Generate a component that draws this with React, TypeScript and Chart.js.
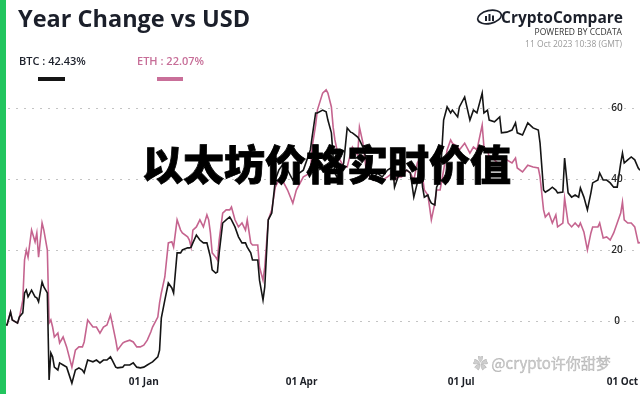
import React, { useEffect, useRef } from "react";
import { Chart, registerables } from "chart.js";

Chart.register(...registerables);

// Days since 11 Oct 2022
const DAYS = [
  0, 4, 6, 7, 10, 11, 13, 14, 15, 16, 18, 20, 21, 22, 24, 25, 27, 28, 29, 30, 31, 33, 34, 36, 38, 41, 43, 45, 47, 48,
  50, 53, 55, 57, 59, 61, 63, 64, 66, 67, 70, 71, 74, 76, 78, 80, 82, 84, 86, 87, 90, 91, 92, 94, 96, 98, 99, 101, 103, 104,
  107, 108, 109, 110, 112, 114, 116, 118, 119, 120, 121, 123, 124, 125, 127, 129, 131, 132, 134, 136, 138, 140, 141, 143, 144, 147, 148, 150, 151, 153,
  155, 157, 159, 161, 164, 167, 169, 173, 177, 178, 180, 181, 184, 186, 187, 189, 190, 191, 193, 196, 198, 200, 201, 204, 205, 207, 209, 211, 213, 215,
  218, 221, 224, 225, 227, 229, 232, 234, 236, 238, 239, 240, 241, 242, 244, 245, 246, 248, 249, 251, 253, 255, 257, 258, 261, 262, 265, 268, 270, 272,
  275, 276, 278, 279, 282, 285, 286, 289, 292, 294, 295, 298, 301, 304, 307, 308, 310, 311, 313, 315, 317, 318, 321, 322, 324, 326, 328, 330, 331, 333,
  335, 337, 338, 341, 342, 344, 346, 348, 350, 352, 354, 355, 356, 358, 360, 362, 364, 365,
];

const BTC = [
  -1.0, -1.1, 2.5, 0.3, -0.6, 1.1, 2.3, 7.9, 8.7, 6.8, 8.7, 6.8, 6.5, 5.4, 11.0, 9.6, 7.9, -16.6, -9.0, -10.1, -13.0, -13.8, -11.8, -12.4, -13.0, -17.5, -13.8, -13.2, -13.8, -14.6,
  -11.0, -11.5, -11.0, -11.8, -11.0, -11.0, -10.1, -11.0, -13.0, -13.2, -13.0, -12.4, -12.4, -11.8, -13.0, -13.2, -13.0, -12.4, -11.8, -11.5, -10.1, -8.2, 0.8, 5.9, 10.7, 9.3, 7.9, 19.2, 19.2, 20.0,
  20.6, 20.6, 20.8, 22.0, 24.2, 22.8, 22.0, 22.0, 20.0, 18.0, 14.4, 13.5, 13.8, 19.2, 27.6, 28.5, 29.3, 28.5, 26.5, 23.7, 22.0, 22.0, 20.8, 19.2, 17.2, 17.2, 11.5, 5.9, 9.6, 28.5,
  30.4, 39.7, 42.5, 43.9, 42.5, 39.7, 41.1, 42.5, 48.2, 51.8, 58.6, 58.6, 59.4, 58.9, 56.6, 53.0, 46.2, 41.7, 39.7, 44.5, 54.4, 53.2, 53.0, 51.8, 51.0, 49.0, 45.4, 40.6, 39.7, 41.7,
  40.6, 42.5, 43.4, 37.7, 40.6, 41.7, 42.5, 41.7, 34.9, 38.9, 45.4, 43.4, 37.7, 34.9, 35.5, 34.1, 33.2, 32.7, 37.7, 39.7, 56.6, 60.3, 58.6, 59.4, 57.5, 60.3, 63.1, 56.6, 59.4, 58.6,
  64.2, 58.6, 59.4, 56.6, 56.1, 57.5, 53.0, 53.2, 53.8, 55.8, 53.0, 52.4, 55.8, 54.4, 53.8, 50.1, 36.9, 36.3, 36.9, 37.7, 36.9, 36.1, 36.3, 45.9, 36.1, 34.9, 35.5, 34.9, 37.5, 34.9,
  31.3, 36.1, 38.9, 39.7, 41.7, 39.7, 39.7, 38.9, 37.7, 37.7, 44.5, 47.3, 44.5, 45.4, 46.2, 45.4, 43.1, 42.43,
];

const ETH = [
  -1.0, -1.1, 2.5, 0.3, -0.6, 0.8, 5.9, 17.2, 20.0, 18.0, 25.6, 22.3, 24.8, 18.0, 27.6, 25.6, 20.0, -0.6, 0.3, -1.7, -4.5, -3.4, -6.2, -4.5, -7.3, -13.0, -8.2, -7.3, -7.3, -5.9,
  0.3, -1.7, -1.7, -3.4, -1.7, -1.1, 1.7, -0.6, -5.4, -8.2, -6.2, -5.9, -5.4, -5.9, -7.3, -7.3, -6.8, -5.4, -3.1, -1.7, 1.1, 5.1, 7.9, 12.4, 22.0, 22.3, 20.8, 28.5, 25.6, 24.8,
  23.7, 22.8, 20.8, 25.6, 26.5, 28.5, 26.5, 29.9, 28.5, 24.8, 19.2, 18.0, 17.2, 22.8, 30.4, 31.3, 31.3, 32.1, 28.5, 26.5, 27.6, 25.6, 28.5, 22.0, 21.4, 21.4, 15.2, 11.5, 15.2, 28.5,
  31.3, 37.7, 39.7, 39.7, 36.9, 33.2, 36.9, 40.6, 41.7, 49.0, 55.2, 59.4, 64.2, 65.1, 64.2, 60.3, 54.6, 51.0, 46.2, 43.4, 43.4, 47.3, 49.0, 46.8, 54.6, 50.1, 41.7, 40.6, 39.7, 40.6,
  39.7, 40.6, 41.7, 39.7, 40.6, 40.6, 42.5, 41.7, 39.7, 44.5, 45.4, 39.7, 40.6, 36.9, 35.5, 32.1, 28.5, 33.2, 36.9, 36.9, 42.5, 48.2, 51.0, 50.1, 49.0, 48.2, 50.1, 47.3, 49.0, 48.2,
  55.2, 49.0, 48.2, 46.2, 45.4, 43.9, 44.8, 45.4, 44.5, 45.9, 43.1, 42.0, 43.9, 43.4, 43.1, 40.6, 31.3, 29.3, 30.4, 27.6, 29.9, 26.5, 27.6, 34.6, 27.6, 26.5, 27.6, 26.5, 27.6, 25.1,
  20.0, 24.8, 26.5, 26.5, 27.6, 23.4, 23.7, 22.8, 24.8, 27.6, 30.4, 33.5, 28.5, 27.6, 27.6, 26.5, 22.0, 22.07,
];

const Y_TICKS = [0, 20, 40, 60];
const X_TICK_DAYS = [82, 172, 263, 355];
const X_TICK_LABELS = ["01 Jan", "01 Apr", "01 Jul", "01 Oct"];

const BTC_COLOR = "#151515";
const ETH_COLOR = "#c5648f";

const decoPlugin = {
  id: "deco",
  beforeDatasetsDraw(chart: any) {
    const { ctx, chartArea, scales } = chart;
    const y = scales.y;
    ctx.save();
    ctx.strokeStyle = "#c4c4c4";
    ctx.lineWidth = 1;
    ctx.setLineDash([2, 6]);
    for (const v of Y_TICKS) {
      const py = Math.round(y.getPixelForValue(v)) + 0.5;
      ctx.beginPath();
      ctx.moveTo(chartArea.left + 8, py);
      ctx.lineTo(chartArea.right, py);
      ctx.stroke();
    }
    ctx.restore();
  },
  afterDatasetsDraw(chart: any) {
    const { ctx, chartArea, scales } = chart;
    const x = scales.x;
    const y = scales.y;
    ctx.save();
    ctx.font = '600 10px "Open Sans"';
    ctx.fillStyle = "#262626";
    ctx.textAlign = "center";
    ctx.textBaseline = "middle";
    for (const v of Y_TICKS) {
      ctx.fillText(String(v), chartArea.right - 23, y.getPixelForValue(v));
    }
    ctx.font = '700 10px "Open Sans"';
    ctx.fillStyle = "#1c1f26";
    X_TICK_DAYS.forEach((d, i) => {
      ctx.fillText(X_TICK_LABELS[i], x.getPixelForValue(d), chartArea.bottom - 10);
    });
    ctx.restore();
  },
};

export default function App() {
  const canvasRef = useRef<HTMLCanvasElement | null>(null);

  useEffect(() => {
    document.body.style.margin = "0";
    const canvas = canvasRef.current;
    if (!canvas) return;
    const chart = new Chart(canvas, {
      type: "line",
      data: {
        datasets: [
          {
            label: "BTC",
            data: DAYS.map((d, i) => ({ x: d, y: BTC[i] })),
            borderColor: BTC_COLOR,
            borderWidth: 1.6,
            pointRadius: 0,
            tension: 0,
          },
          {
            label: "ETH",
            data: DAYS.map((d, i) => ({ x: d, y: ETH[i] })),
            borderColor: ETH_COLOR,
            borderWidth: 1.6,
            pointRadius: 0,
            tension: 0,
          },
        ],
      },
      options: {
        animation: false,
        responsive: false,
        devicePixelRatio: 1,
        layout: { padding: { top: 72.5, bottom: 2, left: 0, right: 0 } },
        plugins: { legend: { display: false }, tooltip: { enabled: false } },
        scales: {
          x: { type: "linear", min: 0, max: 365, display: false },
          y: { type: "linear", min: -20, max: 70, display: false },
        },
      },
      plugins: [decoPlugin],
    });
    return () => chart.destroy();
  }, []);

  const sans = '"Open Sans", "Noto Sans", sans-serif';

  return (
    <div style={{ position: "fixed", left: 0, top: 0, width: 640, height: 394, background: "#fff", overflow: "hidden", fontFamily: sans }}>
      <canvas ref={canvasRef} width={640} height={394} style={{ position: "absolute", left: 0, top: 0, width: 640, height: 394 }} />
      <div style={{ position: "absolute", left: 0, top: 0, width: 6, height: 394, background: "#22c55e" }} />
      <div style={{ position: "absolute", left: 18, top: 3, fontSize: 23.5, fontWeight: 700, color: "#1b1f2a", lineHeight: "30px", whiteSpace: "nowrap" }}>
        Year Change vs USD
      </div>
      <div style={{ position: "absolute", left: 19, top: 53, fontSize: 11, fontWeight: 600, color: "#1b1f2a", lineHeight: "16px", whiteSpace: "nowrap" }}>
        BTC : 42.43%
      </div>
      <div style={{ position: "absolute", left: 38, top: 77, width: 27, height: 4, background: BTC_COLOR }} />
      <div style={{ position: "absolute", left: 137, top: 53, fontSize: 11, fontWeight: 600, color: "#c76e98", lineHeight: "16px", whiteSpace: "nowrap" }}>
        ETH : 22.07%
      </div>
      <div style={{ position: "absolute", left: 157, top: 77, width: 26, height: 4, background: "#c96f99" }} />

      <svg style={{ position: "absolute", left: 476, top: 9 }} width={27} height={16} viewBox="0 0 27 16">
        <ellipse cx={13.5} cy={8} rx={12} ry={6.5} fill="none" stroke="#1b1f2a" strokeWidth={1.6} transform="rotate(-12 13.5 8)" />
        <rect x={9} y={7} width={2} height={5} fill="#1b1f2a" />
        <rect x={12.5} y={5} width={2} height={7} fill="#1b1f2a" />
        <rect x={16} y={6.5} width={2} height={5.5} fill="#1b1f2a" />
      </svg>
      <div style={{ position: "absolute", right: 17, top: 7, fontSize: 15.5, fontWeight: 700, color: "#1b1f2a", lineHeight: "20px", whiteSpace: "nowrap" }}>
        CryptoCompare
      </div>
      <div style={{ position: "absolute", right: 18, top: 26, fontSize: 8.5, fontWeight: 400, color: "#333", lineHeight: "12px", whiteSpace: "nowrap" }}>
        POWERED BY CCDATA
      </div>
      <div style={{ position: "absolute", right: 18, top: 38, fontSize: 8.5, fontWeight: 400, color: "#9a9a9a", lineHeight: "12px", whiteSpace: "nowrap" }}>
        11 Oct 2023 10:38 (GMT)
      </div>

      <div
        style={{
          position: "absolute",
          left: 142,
          top: 142,
          fontSize: 41,
          lineHeight: "41px",
          fontWeight: 900,
          color: "#000",
          fontFamily: '"Noto Sans CJK SC", sans-serif',
          whiteSpace: "nowrap",
          letterSpacing: 0,
          WebkitTextStroke: "0.8px #000",
        }}
      >
        以太坊价格实时价值
      </div>

      <div
        style={{
          position: "absolute",
          left: 473,
          top: 354,
          fontSize: 15,
          lineHeight: "18px",
          color: "rgba(185,185,185,0.7)",
          fontFamily: '"Noto Sans CJK SC", sans-serif',
          whiteSpace: "nowrap",
          WebkitTextStroke: "0.4px rgba(120,120,120,0.45)",
        }}
      >
        ✿ @crypto许你甜梦
      </div>
    </div>
  );
}
